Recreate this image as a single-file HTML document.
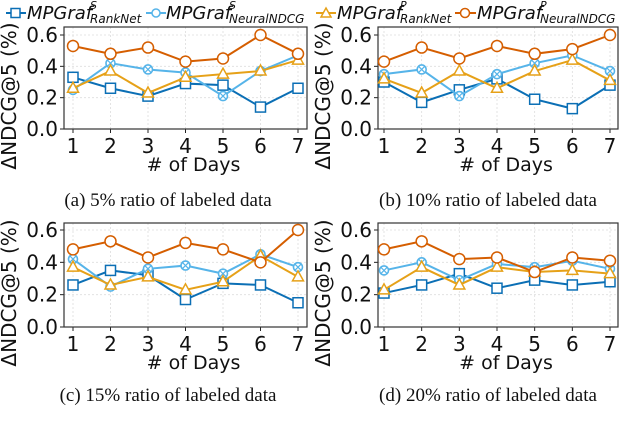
<!DOCTYPE html>
<html><head><meta charset="utf-8"><style>
html,body{margin:0;padding:0;background:#fff;}
svg{display:block;font-family:"DejaVu Sans","Liberation Sans",sans-serif;}
.cap{font-family:"Liberation Serif",serif;font-size:19px;fill:#111;}
</style></head><body>
<svg id="c" width="640" height="441" viewBox="0 0 640 441" xmlns="http://www.w3.org/2000/svg">
<g id="legend" font-style="italic">
 <g>
  <line x1="6" y1="13" x2="26" y2="13" stroke="#0b6fb5" stroke-width="2"/>
  <rect x="11" y="8.5" width="9" height="9" fill="#fff" stroke="#0b6fb5" stroke-width="1.5"/>
  <text x="27" y="19" font-size="18" fill="#111">MPGraf</text><text x="90" y="9" font-size="11" fill="#111">S</text><text x="90" y="23" font-size="12" fill="#111">RankNet</text>
 </g>
 <g>
  <line x1="146" y1="13" x2="166" y2="13" stroke="#56b4e9" stroke-width="2"/>
  <circle cx="156" cy="13" r="4" fill="#fff" stroke="#56b4e9" stroke-width="1.5"/>
  <text x="166" y="19" font-size="18" fill="#111">MPGraf</text><text x="229" y="9" font-size="11" fill="#111">S</text><text x="229" y="23" font-size="12" fill="#111">NeuralNDCG</text>
 </g>
 <g>
  <line x1="316" y1="13" x2="336" y2="13" stroke="#e6a118" stroke-width="2"/>
  <path d="M326 8 L331 17 L321 17 Z" fill="#fff" stroke="#e6a118" stroke-width="1.5"/>
  <text x="337" y="19" font-size="18" fill="#111">MPGraf</text><text x="400" y="9" font-size="11" fill="#111">P</text><text x="400" y="23" font-size="12" fill="#111">RankNet</text>
 </g>
 <g>
  <line x1="455" y1="13" x2="476" y2="13" stroke="#d55e00" stroke-width="2"/>
  <circle cx="465" cy="13" r="4.5" fill="#fff" stroke="#d55e00" stroke-width="1.5"/>
  <text x="477" y="19" font-size="18" fill="#111">MPGraf</text><text x="540" y="9" font-size="11" fill="#111">P</text><text x="540" y="23" font-size="12" fill="#111">NeuralNDCG</text>
 </g>
</g>
</svg>
<script>
const days = [1,2,3,4,5,6,7];
const yTicks = [0.0,0.2,0.4,0.6];
const yTickLabels = ["0.0","0.2","0.4","0.6"];
const seriesNames = ["ranknet-s","neuralndcg-s","ranknet-p","neuralndcg-p"];
const panelCaptions = ["(a) 5% ratio of labeled data","(b) 10% ratio of labeled data","(c) 15% ratio of labeled data","(d) 20% ratio of labeled data"];
const a_rankS = [.33,.26,.21,.29,.28,.14,.26];
const a_neuS  = [.25,.42,.38,.36,.21,.37,.47];
const a_rankP = [.26,.37,.23,.33,.35,.37,.44];
const a_neuP  = [.53,.48,.52,.43,.45,.60,.48];
const b_rankS = [.30,.17,.25,.32,.19,.13,.28];
const b_neuS  = [.35,.38,.21,.35,.42,.47,.37];
const b_rankP = [.32,.23,.37,.26,.37,.44,.31];
const b_neuP  = [.43,.52,.45,.53,.48,.51,.60];
const c_rankS = [.26,.35,.32,.17,.27,.26,.15];
const c_neuS  = [.42,.25,.36,.38,.33,.45,.37];
const c_rankP = [.37,.26,.31,.23,.28,.44,.31];
const c_neuP  = [.48,.53,.43,.52,.48,.40,.60];
const d_rankS = [.21,.26,.33,.24,.29,.26,.28];
const d_neuS  = [.35,.40,.29,.39,.37,.41,.36];
const d_rankP = [.23,.37,.26,.37,.34,.35,.33];
const d_neuP  = [.48,.53,.42,.43,.34,.43,.41];

const NS="http://www.w3.org/2000/svg";
const svg=document.getElementById('c');
function mk(tag,attrs,parent){const e=document.createElementNS(NS,tag);for(const k in attrs)e.setAttribute(k,attrs[k]);(parent||svg).appendChild(e);return e;}
const colors=["#0b6fb5","#56b4e9","#e6a118","#d55e00"];
const panels=[
 {box:[64,307,27,129],x1:73,x7:298,y0:129,y6:35,data:[a_rankS,a_neuS,a_rankP,a_neuP],cx:168,cy:206,id:'a'},
 {box:[378,618,27,129],x1:384,x7:610,y0:129,y6:35,data:[b_rankS,b_neuS,b_rankP,b_neuP],cx:488,cy:206,id:'b'},
 {box:[64,307,223,327],x1:73,x7:298,y0:327,y6:230,data:[c_rankS,c_neuS,c_rankP,c_neuP],cx:168,cy:401,id:'c'},
 {box:[378,618,223,327],x1:384,x7:610,y0:327,y6:230,data:[d_rankS,d_neuS,d_rankP,d_neuP],cx:488,cy:401,id:'d'}
];
panels.forEach((p,pi)=>{
 const g=mk('g',{});
 
 
 const xs=d=>p.x1+(d-1)*(p.x7-p.x1)/6;
 const ys=v=>p.y0-v*(p.y0-p.y6)/0.6;
 const [L,R,T,B]=p.box;
 yTicks.forEach((t,i)=>{
  mk('line',{x1:L,x2:R,y1:ys(t),y2:ys(t),stroke:'#ddd','stroke-width':0.8,'stroke-dasharray':'2,2'},g);
  mk('line',{x1:L-4,x2:L,y1:ys(t),y2:ys(t),stroke:'#222','stroke-width':1},g);
  const tl=mk('text',{x:L-6,y:ys(t)+7,'text-anchor':'end','font-size':20,fill:'#111'},g);
  tl.textContent=yTickLabels[i];
  
  
 });
 days.forEach(d=>{
  mk('line',{x1:xs(d),x2:xs(d),y1:T,y2:B,stroke:'#ddd','stroke-width':0.8,'stroke-dasharray':'2,2'},g);
  mk('line',{x1:xs(d),x2:xs(d),y1:B,y2:B+4,stroke:'#222','stroke-width':1},g);
  const tl=mk('text',{x:xs(d),y:B+24,'text-anchor':'middle','font-size':20,fill:'#111'},g);
  tl.textContent=d;
  
  
 });
 mk('rect',{x:L,y:T,width:R-L,height:B-T,fill:'none',stroke:'#333','stroke-width':1.2},g);
 const xt=mk('text',{x:(L+R)/2+8,y:B+42,'text-anchor':'middle','font-size':19,fill:'#111'},g);
 xt.textContent='# of Days';
 
 
 const yx=L-48, yy=(T+B)/2+18;
 const yt=mk('text',{x:yx,y:yy,'text-anchor':'middle','font-size':20,fill:'#111',transform:`rotate(-90 ${yx} ${yy})`},g);
 yt.textContent='ΔNDCG@5 (%)';
 
 
 p.data.forEach((vals,si)=>{
  const col=colors[si];
  const sg=mk('g',{},g);
  
  
  mk('polyline',{points:vals.map((v,i)=>xs(days[i])+','+ys(v)).join(' '),fill:'none',stroke:col,'stroke-width':2},sg);
  vals.forEach((v,i)=>{
   const x=xs(days[i]),y=ys(v);let m;
   if(si===0)m=mk('rect',{x:x-5,y:y-5,width:10,height:10,fill:'#fff',stroke:col,'stroke-width':1.5},sg);
   else if(si===1){m=mk('g',{},sg);mk('circle',{cx:x,cy:y,r:4.5,fill:'#fff',stroke:col,'stroke-width':1.6},m);mk('path',{d:`M${x-3} ${y-3}L${x+3} ${y+3}M${x-3} ${y+3}L${x+3} ${y-3}`,stroke:col,'stroke-width':1.2},m);}
   else if(si===2)m=mk('path',{d:`M${x} ${y-6} L${x+5.5} ${y+4} L${x-5.5} ${y+4} Z`,fill:'#fff',stroke:col,'stroke-width':1.5},sg);
   else m=mk('circle',{cx:x,cy:y,r:5.5,fill:'#fff',stroke:col,'stroke-width':1.5},sg);
   
   
  });
 });
 const cap=mk('text',{x:p.cx,y:p.cy,'text-anchor':'middle',class:'cap'},g);
 cap.textContent=panelCaptions[pi];
 
 
});
</script>
</body></html>
